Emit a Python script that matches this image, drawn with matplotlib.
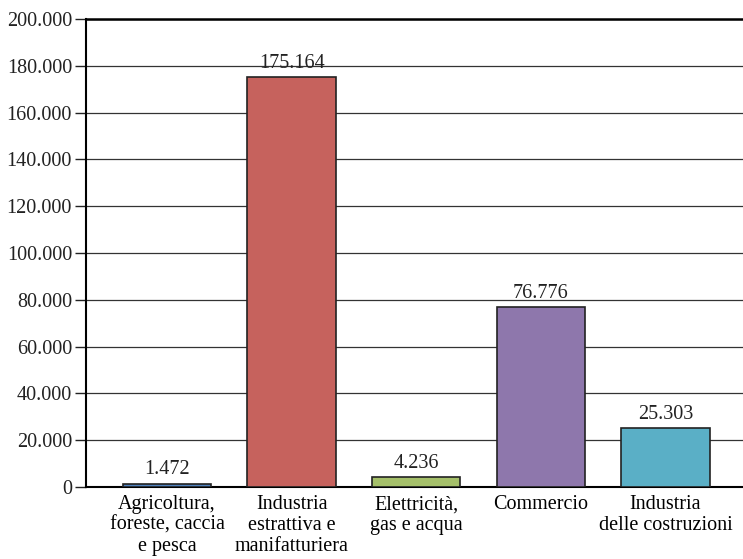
import matplotlib.pyplot as plt
from matplotlib.ticker import FuncFormatter

categories = ['Agricoltura,\nforeste, caccia\ne pesca',
              'Industria\nestrattiva e\nmanifatturiera',
              'Elettricità,\ngas e acqua',
              'Commercio',
              'Industria\ndelle costruzioni']
values = [1472, 175164, 4236, 76776, 25303]
bar_colors = ['#4f81bd', '#c6625d', '#a5c06a', '#8e77ac', '#5aafc6']


def it_fmt(v, pos=None):
    return f'{int(v):,}'.replace(',', '.')


plt.rcParams['font.family'] = ['Liberation Serif', 'DejaVu Serif']
plt.rcParams['font.size'] = 14.5

fig = plt.figure(figsize=(7.43, 5.59), dpi=100)
ax = fig.add_axes([0.1157, 0.1288, 0.884, 0.8372])

x = range(len(categories))
bars = ax.bar(x, values, width=0.71, color=bar_colors,
              edgecolor='#222222', linewidth=1.2, zorder=3)

for b, v in zip(bars, values):
    ax.text(b.get_x() + b.get_width() / 2, v + 1800, it_fmt(v),
            ha='center', va='bottom', color='#222222')

ax.set_ylim(0, 200000)
ax.set_xlim(-0.65, 4.62)
ax.set_yticks(range(0, 200001, 20000))
ax.yaxis.set_major_formatter(FuncFormatter(it_fmt))
ax.grid(axis='y', color='#333333', linewidth=0.9, zorder=0)

ax.set_xticks(list(x))
ax.set_xticklabels(categories, linespacing=1.12)
ax.tick_params(axis='x', length=0, pad=6)
ax.tick_params(axis='y', length=8, width=1, pad=2, colors='#222222')

ax.spines['right'].set_visible(False)
ax.spines['left'].set_linewidth(1.5)
ax.spines['top'].set_linewidth(1.8)
ax.spines['bottom'].set_linewidth(1.5)

fig.savefig('out.png', dpi=100)
